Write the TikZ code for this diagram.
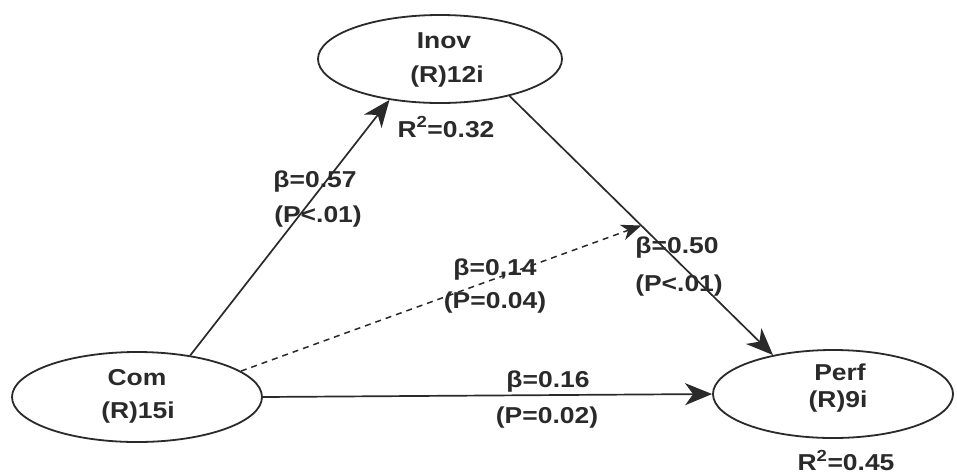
\documentclass[tikz,border=0pt]{standalone}
\usepackage{fontspec}
\setmainfont[FakeStretch=1.15]{Liberation Sans}
\usetikzlibrary{shapes.geometric,arrows.meta}
\definecolor{ink}{HTML}{2A2A2A}
\begin{document}
\begin{tikzpicture}[x=1pt,y=-1pt,
  latent/.style={ellipse, draw=ink, line width=1.8pt, inner sep=0pt},
  txt/.style={inner sep=0pt, text=ink, font=\fontsize{23}{27}\bfseries\selectfont},
  path/.style={draw=ink, line width=1.7pt, -{Stealth[length=27pt,width=22pt,inset=8pt]}},
  dpath/.style={draw=ink, line width=1.5pt, dash pattern=on 6pt off 5pt, -{Stealth[length=20pt,width=16pt,inset=6pt]}}]
\useasboundingbox (0,0) rectangle (957,475);
\fill[white] (0,0) rectangle (957,475);
% latent variables
\node[latent, minimum width=244pt, minimum height=88pt] (inov) at (440,59) {};
\node[latent, minimum width=250pt, minimum height=90pt] (com) at (137,397) {};
\node[latent, minimum width=240pt, minimum height=88pt] (perf) at (833,394) {};
% texts in ellipses
\node[txt] (inovA) at (444,41) {Inov};
\node[txt] (inovB) at (447,77) {(R)12i};
\node[txt] (inovR) at (446,127) {R\textsuperscript{2}=0.32};
\node[txt] (comA) at (137,378) {Com};
\node[txt] (comB) at (138,413) {(R)15i};
\node[txt] (perfA) at (840,372) {Perf};
\node[txt] (perfB) at (838,402) {(R)9i};
\node[txt] (perfR) at (846,460) {R\textsuperscript{2}=0.45};
% paths
\path (inov.-28) -- (perf.147) coordinate[pos=0.5] (med);
\draw[path] (com.38) -- (inov.219);
\draw[path] (inov.-28) -- (perf.147);
\draw[dpath] (com.14) -- (med);
\draw[path] (com.east) -- (perf.west);
% path labels
\node[txt] (l1a) at (315,182) {β=0.57};
\node[txt] (l1b) at (318,217) {(P<.01)};
\node[txt] (l2a) at (495,270) {β=0,14};
\node[txt] (l2b) at (495,303) {(P=0.04)};
\node[txt] (l3a) at (677,248) {β=0.50};
\node[txt] (l3b) at (679,286) {(P<.01)};
\node[txt] (l4a) at (548,382) {β=0.16};
\node[txt] (l4b) at (547,418) {(P=0.02)};
\end{tikzpicture}
\end{document}
